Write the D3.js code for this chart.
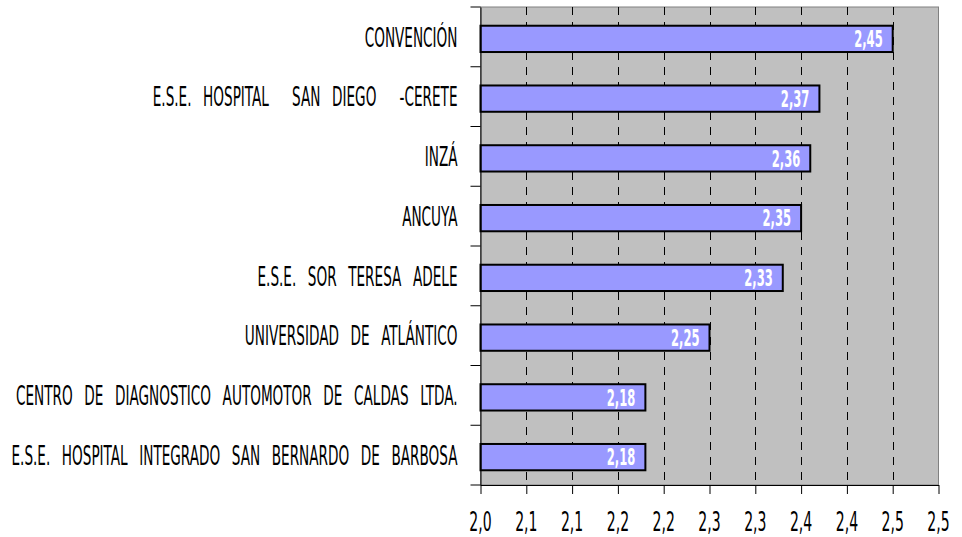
<!DOCTYPE html>
<html lang="es">
<head>
<meta charset="utf-8" />
<title>Calificación por entidad</title>
<script src="https://cdn.jsdelivr.net/npm/d3@7"></script>
<style>
	body { margin: 0; background: #fff; }
	.cat, .tick-lbl { font-family: "DejaVu Sans Condensed", "DejaVu Sans", sans-serif; fill: #000; }
	.val { font-family: "DejaVu Sans Condensed", "DejaVu Sans", sans-serif; font-weight: bold; fill: #fff; }
	.grid { stroke: #000; stroke-width: 1; stroke-dasharray: 8,7; }
</style>
</head>
<body>
<div id="chart"></div>
<script>
// data, top to bottom
var entidades = [
	"CONVENCIÓN",
	"E.S.E. HOSPITAL  SAN DIEGO  -CERETE",
	"INZÁ",
	"ANCUYA",
	"E.S.E. SOR TERESA ADELE",
	"UNIVERSIDAD DE ATLÁNTICO",
	"CENTRO DE DIAGNOSTICO AUTOMOTOR DE CALDAS LTDA.",
	"E.S.E. HOSPITAL INTEGRADO SAN BERNARDO DE BARBOSA"
];
var valores = [2.45, 2.37, 2.36, 2.35, 2.33, 2.25, 2.18, 2.18];
var ticks = [2.00, 2.05, 2.10, 2.15, 2.20, 2.25, 2.30, 2.35, 2.40, 2.45, 2.50];
var tickLabels = ["2,0", "2,1", "2,1", "2,2", "2,2", "2,3", "2,3", "2,4", "2,4", "2,5", "2,5"];

var W = 962, H = 537;
var margin = {top: 7, right: 23.5, bottom: 52, left: 480.5};

var svg = d3.select("#chart").append("svg")
	.attr("width", W)
	.attr("height", H);

// scales
var x = d3.scaleLinear().domain([2.0, 2.5]).range([margin.left, W - margin.right]);
var y = d3.scaleBand().domain(entidades)
	.range([margin.top, H - margin.bottom])
	.paddingInner(0.56).paddingOuter(0.28);
var yBand = d3.scaleBand().domain(entidades).range([margin.top, H - margin.bottom]);

var coma2 = function(v) { return d3.format(".2f")(v).replace(".", ","); };
var squeeze = 0.56;

// plot area
svg.append("rect")
	.attr("x", x(2.0)).attr("y", margin.top)
	.attr("width", x(2.5) - x(2.0)).attr("height", H - margin.bottom - margin.top)
	.attr("fill", "#c0c0c0")
	.attr("stroke", "#808080").attr("stroke-width", 1);

// dashed grid
svg.append("g").selectAll("line")
	.data(ticks.slice(1, -1))
	.join("line")
	.attr("class", "grid")
	.attr("x1", function(d) { return Math.round(x(d)) + 0.5; })
	.attr("x2", function(d) { return Math.round(x(d)) + 0.5; })
	.attr("y1", margin.top).attr("y2", H - margin.bottom);

// bars
svg.append("g").selectAll("rect")
	.data(valores)
	.join("rect")
	.attr("x", x(2.0))
	.attr("y", function(d, i) { return y(entidades[i]) + 2; })
	.attr("width", function(d) { return x(d) - x(2.0); })
	.attr("height", y.bandwidth())
	.attr("fill", "#9999ff")
	.attr("stroke", "#000")
	.attr("stroke-width", 2);

// data labels
svg.append("g").selectAll("text")
	.data(valores)
	.join("text")
	.attr("class", "val")
	.attr("transform", function(d, i) {
		return "translate(" + (x(d) - 10) + "," + (y(entidades[i]) + 2 + y.bandwidth() / 2) + ") scale(" + squeeze + ",1)";
	})
	.attr("text-anchor", "end")
	.attr("dy", "0.36em")
	.style("font-size", "23px")
	.text(function(d) { return coma2(d); });

// y axis
var yAxis = svg.append("g")
	.attr("transform", "translate(" + x(2.0) + ",0)")
	.call(d3.axisLeft(yBand).tickSize(0).tickFormat(""));
yAxis.select(".domain").attr("stroke", "#000");
yAxis.selectAll(".ytk")
	.data(entidades.concat(["__end"]))
	.join("line")
	.attr("class", "ytk")
	.attr("x1", -10).attr("x2", 0)
	.attr("y1", function(d, i) { return i < entidades.length ? yBand(d) : H - margin.bottom; })
	.attr("y2", function(d, i) { return i < entidades.length ? yBand(d) : H - margin.bottom; })
	.attr("stroke", "#000");

// category labels
svg.append("g").selectAll("text")
	.data(entidades)
	.join("text")
	.attr("class", "cat")
	.attr("transform", function(d) {
		return "translate(" + (x(2.0) - 23) + "," + (yBand(d) + yBand.bandwidth() / 2) + ") scale(" + squeeze + ",1)";
	})
	.attr("text-anchor", "end")
	.attr("dy", "0.36em")
	.style("font-size", "27px")
	.style("word-spacing", "13px")
	.style("white-space", "pre")
	.text(function(d) { return d; });

// x axis
var xAxis = svg.append("g")
	.attr("transform", "translate(0," + (H - margin.bottom) + ")")
	.call(d3.axisBottom(x).tickValues(ticks).tickSize(9).tickSizeOuter(0).tickFormat(""));
xAxis.select(".domain").attr("stroke", "#000");
xAxis.selectAll(".tick line").attr("stroke", "#000");

svg.append("g").selectAll("text")
	.data(ticks)
	.join("text")
	.attr("class", "tick-lbl")
	.attr("transform", function(d) { return "translate(" + x(d) + "," + 522 + ") scale(0.6,1)"; })
	.attr("text-anchor", "middle")
	.attr("dy", "0.36em")
	.style("font-size", "26px")
	.text(function(d, i) { return tickLabels[i]; });
</script>
</body>
</html>
